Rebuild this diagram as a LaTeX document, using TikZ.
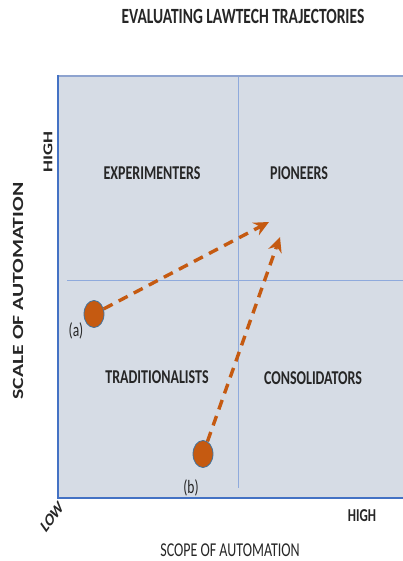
\documentclass[tikz,border=0pt]{standalone}
\usepackage{fontspec}
\setmainfont{Carlito}
\usetikzlibrary{arrows.meta,shapes.geometric}
\definecolor{panelfill}{HTML}{D6DCE5}
\definecolor{panelborder}{HTML}{4472C4}
\definecolor{topborder}{HTML}{8EA3CF}
\definecolor{gridline}{HTML}{8FAADC}
\definecolor{traj}{HTML}{C55A11}
\definecolor{dotborder}{HTML}{41719C}
\definecolor{txt}{HTML}{262626}
\newcommand{\tallT}[1]{\scalebox{1}[1.4]{#1}}
\newcommand{\wideT}[1]{\scalebox{1.4}[1]{#1}}
\tikzset{
  quadlabel/.style={font=\bfseries\fontsize{14}{16}\selectfont, text=txt},
  dotnode/.style={ellipse, fill=traj, draw=dotborder, line width=0.8pt, minimum width=20pt, minimum height=27pt, inner sep=0pt},
  trajarrow/.style={draw=traj, line width=3.4pt, dash pattern=on 10pt off 7pt, -{Stealth[length=15pt,width=14pt,inset=5pt]}},
  smalllabel/.style={font=\fontsize{13.5}{15}\selectfont, text=txt},
}
\begin{document}
\begin{tikzpicture}[x=1pt,y=-1pt]
\useasboundingbox (0,0) rectangle (403,561);
% panel
\fill[panelfill] (58,76) rectangle (403,498);
\draw[gridline, line width=0.8pt] (67,280) -- (403,280);
\draw[gridline, line width=0.8pt] (238,76) -- (238,488);
\draw[topborder, line width=2pt] (58,76) -- (403,76);
\draw[panelborder, line width=1.2pt] (58,75) -- (58,498) -- (403,498);
% title
\node[font=\bfseries\fontsize{15.5}{18}\selectfont, text=txt] (title) at (243,16) {\tallT{EVALUATING LAWTECH TRAJECTORIES}};
% quadrant labels
\node[quadlabel] (exp) at (152,173) {\tallT{EXPERIMENTERS}};
\node[quadlabel] (pio) at (299,173) {\tallT{PIONEERS}};
\node[quadlabel] (tra) at (157,377) {\tallT{TRADITIONALISTS}};
\node[quadlabel] (con) at (313,378) {\tallT{CONSOLIDATORS}};
% axis labels
\node[font=\bfseries\fontsize{15.5}{18}\selectfont, text=txt, rotate=90] (yaxis) at (18,291) {\wideT{SCALE OF AUTOMATION}};
\node[font=\bfseries\fontsize{13.5}{16}\selectfont, text=txt, rotate=90] (yhigh) at (48,152) {\wideT{HIGH}};
\node[font=\bfseries\fontsize{13}{15}\selectfont, text=txt, yscale=1.4, rotate=45] (low) at (52,517) {LOW};
\node[font=\bfseries\fontsize{13}{15}\selectfont, text=txt] (xhigh) at (362,516) {\tallT{HIGH}};
\node[font=\fontsize{14}{16}\selectfont, text=txt] (xaxis) at (230,550) {\tallT{SCOPE OF AUTOMATION}};
% dots
\node[dotnode] (a) at (94,314) {};
\node[dotnode] (b) at (203,454) {};
\node[smalllabel] (alab) at (76,331) {\tallT{(a)}};
\node[smalllabel] (blab) at (191,488) {\tallT{(b)}};
% arrows
\coordinate (aend) at (269,222);
\coordinate (bend) at (280,237);
\draw[trajarrow] (a) -- (aend);
\draw[trajarrow] (b) -- (bend);
\end{tikzpicture}
\end{document}
